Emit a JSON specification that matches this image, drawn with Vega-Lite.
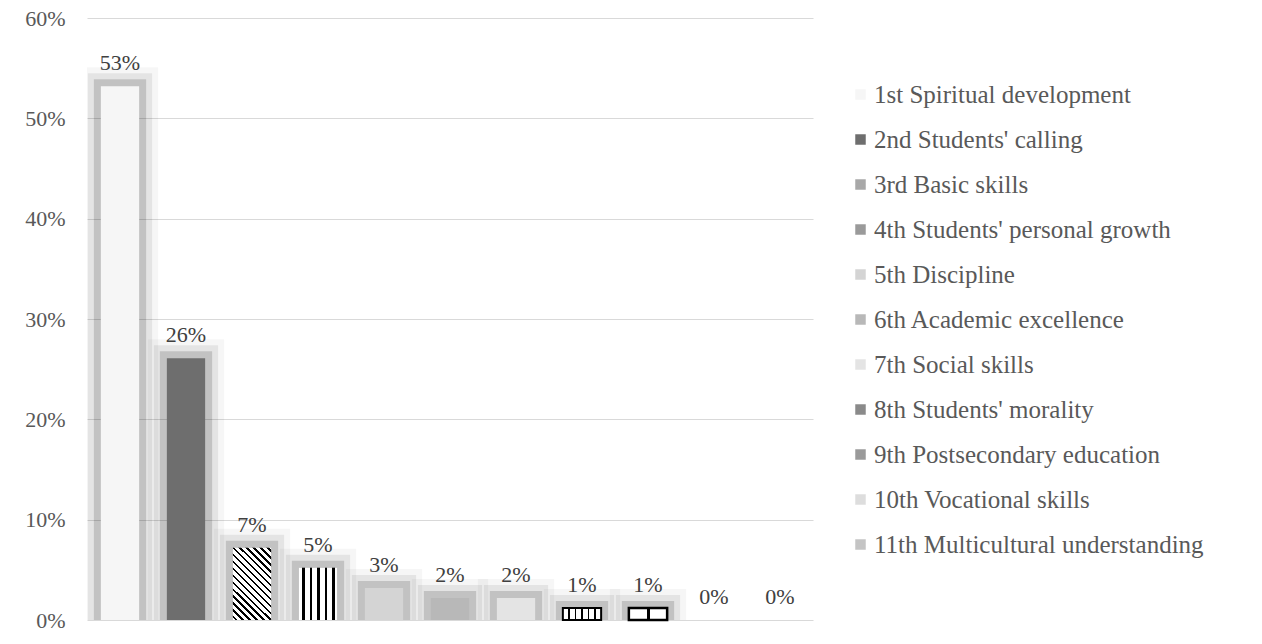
{
  "$schema": "https://vega.github.io/schema/vega-lite/v6.json",
  "autosize": {"type": "none"},
  "padding": {"left": 87, "top": 18, "right": 449, "bottom": 24},
  "width": 726,
  "height": 602,
  "background": "white",
  "config": {"view": {"stroke": null}, "font": "Liberation Serif"},
  "data": {
    "values": [
      {"item": "1st Spiritual development", "share": 0.532},
      {"item": "2nd Students' calling", "share": 0.261},
      {"item": "3rd Basic skills", "share": 0.072},
      {"item": "4th Students' personal growth", "share": 0.052},
      {"item": "5th Discipline", "share": 0.032},
      {"item": "6th Academic excellence", "share": 0.022},
      {"item": "7th Social skills", "share": 0.022},
      {"item": "8th Students' morality", "share": 0.012},
      {"item": "9th Postsecondary education", "share": 0.012},
      {"item": "10th Vocational skills", "share": 0.0},
      {"item": "11th Multicultural understanding", "share": 0.0}
    ]
  },
  "encoding": {
    "x": {
      "field": "item",
      "type": "nominal",
      "sort": null,
      "scale": {
        "domain": ["1st Spiritual development", "2nd Students' calling", "3rd Basic skills", "4th Students' personal growth", "5th Discipline", "6th Academic excellence", "7th Social skills", "8th Students' morality", "9th Postsecondary education", "10th Vocational skills", "11th Multicultural understanding"],
        "paddingInner": 0.42,
        "paddingOuter": 0.21
      },
      "axis": null
    },
    "y": {
      "field": "share",
      "type": "quantitative",
      "scale": {"domain": [0, 0.6]},
      "axis": {
        "values": [0, 0.1, 0.2, 0.3, 0.4, 0.5, 0.6],
        "format": ".0%",
        "grid": true,
        "gridColor": "#d9d9d9",
        "gridWidth": 1,
        "domain": false,
        "ticks": false,
        "labelPadding": 22,
        "labelFontSize": 22,
        "labelColor": "#595959",
        "labelFont": "Liberation Serif",
        "title": null
      }
    }
  },
  "layer": [
    {
      "transform": [{"filter": "datum.share > 0"}],
      "mark": {"type": "bar", "fill": "transparent", "stroke": "#000000", "strokeOpacity": 0.035, "strokeWidth": 38, "clip": true}
    },
    {
      "transform": [{"filter": "datum.share > 0"}],
      "mark": {"type": "bar", "fill": "transparent", "stroke": "#000000", "strokeOpacity": 0.07, "strokeWidth": 26, "clip": true}
    },
    {
      "transform": [{"filter": "datum.share > 0"}],
      "mark": {"type": "bar", "fill": "transparent", "stroke": "#000000", "strokeOpacity": 0.15, "strokeWidth": 14, "clip": true}
    },
    {
      "mark": {"type": "bar", "strokeWidth": 0},
      "encoding": {
        "color": {
          "field": "item",
          "type": "nominal",
          "sort": null,
          "scale": {
            "range": ["#f6f6f6", "#6e6e6e", "#a8a8a8", "#9a9a9a", "#d4d4d4", "#b8b8b8", "#e4e4e4", "#8a8a8a", "#9a9a9a", "#dddddd", "#c4c4c4"]
          },
          "legend": {
            "orient": "none",
            "legendX": 761,
            "legendY": 64,
            "title": null,
            "symbolType": "square",
            "symbolSize": 110,
            "symbolStrokeWidth": 0,
            "labelFontSize": 25,
            "labelColor": "#595959",
            "labelFont": "Liberation Serif",
            "rowPadding": 19,
            "labelOffset": 1,
            "padding": 0,
            "labelLimit": 420
          }
        }
      }
    },
    {
      "transform": [{"filter": "datum.item == '3rd Basic skills'"}],
      "mark": {
        "type": "bar",
        "fill": {
          "gradient": "linear", "x1": 0, "y1": 1, "x2": 0.631, "y2": -0.195,
          "stops": [
            {"offset": 0, "color": "#ffffff"}, {"offset": 0.02, "color": "#ffffff"}, {"offset": 0.02, "color": "#000000"}, {"offset": 0.041, "color": "#000000"}, {"offset": 0.041, "color": "#ffffff"},
            {"offset": 0.0825, "color": "#ffffff"}, {"offset": 0.0825, "color": "#000000"}, {"offset": 0.1035, "color": "#000000"}, {"offset": 0.1035, "color": "#ffffff"},
            {"offset": 0.145, "color": "#ffffff"}, {"offset": 0.145, "color": "#000000"}, {"offset": 0.166, "color": "#000000"}, {"offset": 0.166, "color": "#ffffff"},
            {"offset": 0.2075, "color": "#ffffff"}, {"offset": 0.2075, "color": "#000000"}, {"offset": 0.2285, "color": "#000000"}, {"offset": 0.2285, "color": "#ffffff"},
            {"offset": 0.27, "color": "#ffffff"}, {"offset": 0.27, "color": "#000000"}, {"offset": 0.291, "color": "#000000"}, {"offset": 0.291, "color": "#ffffff"},
            {"offset": 0.3325, "color": "#ffffff"}, {"offset": 0.3325, "color": "#000000"}, {"offset": 0.3535, "color": "#000000"}, {"offset": 0.3535, "color": "#ffffff"},
            {"offset": 0.395, "color": "#ffffff"}, {"offset": 0.395, "color": "#000000"}, {"offset": 0.416, "color": "#000000"}, {"offset": 0.416, "color": "#ffffff"},
            {"offset": 0.4575, "color": "#ffffff"}, {"offset": 0.4575, "color": "#000000"}, {"offset": 0.4785, "color": "#000000"}, {"offset": 0.4785, "color": "#ffffff"},
            {"offset": 0.52, "color": "#ffffff"}, {"offset": 0.52, "color": "#000000"}, {"offset": 0.541, "color": "#000000"}, {"offset": 0.541, "color": "#ffffff"},
            {"offset": 0.5825, "color": "#ffffff"}, {"offset": 0.5825, "color": "#000000"}, {"offset": 0.6035, "color": "#000000"}, {"offset": 0.6035, "color": "#ffffff"},
            {"offset": 0.645, "color": "#ffffff"}, {"offset": 0.645, "color": "#000000"}, {"offset": 0.666, "color": "#000000"}, {"offset": 0.666, "color": "#ffffff"},
            {"offset": 0.7075, "color": "#ffffff"}, {"offset": 0.7075, "color": "#000000"}, {"offset": 0.7285, "color": "#000000"}, {"offset": 0.7285, "color": "#ffffff"},
            {"offset": 0.77, "color": "#ffffff"}, {"offset": 0.77, "color": "#000000"}, {"offset": 0.791, "color": "#000000"}, {"offset": 0.791, "color": "#ffffff"},
            {"offset": 0.8325, "color": "#ffffff"}, {"offset": 0.8325, "color": "#000000"}, {"offset": 0.8535, "color": "#000000"}, {"offset": 0.8535, "color": "#ffffff"},
            {"offset": 0.895, "color": "#ffffff"}, {"offset": 0.895, "color": "#000000"}, {"offset": 0.916, "color": "#000000"}, {"offset": 0.916, "color": "#ffffff"},
            {"offset": 0.9575, "color": "#ffffff"}, {"offset": 0.9575, "color": "#000000"}, {"offset": 0.9785, "color": "#000000"}, {"offset": 0.9785, "color": "#ffffff"},
            {"offset": 1, "color": "#ffffff"}
          ]
        }
      }
    },
    {
      "transform": [{"filter": "datum.item == \"4th Students' personal growth\""}],
      "mark": {
        "type": "bar",
        "fill": {
          "gradient": "linear", "x1": 0, "y1": 0, "x2": 1, "y2": 0,
          "stops": [
            {"offset": 0, "color": "#ffffff"}, {"offset": 0.078, "color": "#ffffff"}, {"offset": 0.078, "color": "#000000"}, {"offset": 0.148, "color": "#000000"}, {"offset": 0.148, "color": "#ffffff"},
            {"offset": 0.278, "color": "#ffffff"}, {"offset": 0.278, "color": "#000000"}, {"offset": 0.348, "color": "#000000"}, {"offset": 0.348, "color": "#ffffff"},
            {"offset": 0.478, "color": "#ffffff"}, {"offset": 0.478, "color": "#000000"}, {"offset": 0.548, "color": "#000000"}, {"offset": 0.548, "color": "#ffffff"},
            {"offset": 0.678, "color": "#ffffff"}, {"offset": 0.678, "color": "#000000"}, {"offset": 0.748, "color": "#000000"}, {"offset": 0.748, "color": "#ffffff"},
            {"offset": 0.878, "color": "#ffffff"}, {"offset": 0.878, "color": "#000000"}, {"offset": 0.948, "color": "#000000"}, {"offset": 0.948, "color": "#ffffff"},
            {"offset": 1, "color": "#ffffff"}
          ]
        }
      }
    },
    {
      "transform": [{"filter": "datum.item == \"8th Students' morality\""}],
      "mark": {
        "type": "bar",
        "stroke": "#000000",
        "strokeWidth": 2,
        "fill": {
          "gradient": "linear", "x1": 0, "y1": 0, "x2": 1, "y2": 0,
          "stops": [
            {"offset": 0, "color": "#ffffff"}, {"offset": 0.145, "color": "#ffffff"}, {"offset": 0.145, "color": "#000000"}, {"offset": 0.19, "color": "#000000"}, {"offset": 0.19, "color": "#ffffff"},
            {"offset": 0.311, "color": "#ffffff"}, {"offset": 0.311, "color": "#000000"}, {"offset": 0.356, "color": "#000000"}, {"offset": 0.356, "color": "#ffffff"},
            {"offset": 0.478, "color": "#ffffff"}, {"offset": 0.478, "color": "#000000"}, {"offset": 0.522, "color": "#000000"}, {"offset": 0.522, "color": "#ffffff"},
            {"offset": 0.644, "color": "#ffffff"}, {"offset": 0.644, "color": "#000000"}, {"offset": 0.689, "color": "#000000"}, {"offset": 0.689, "color": "#ffffff"},
            {"offset": 0.811, "color": "#ffffff"}, {"offset": 0.811, "color": "#000000"}, {"offset": 0.856, "color": "#000000"}, {"offset": 0.856, "color": "#ffffff"},
            {"offset": 1, "color": "#ffffff"}
          ]
        }
      }
    },
    {
      "transform": [{"filter": "datum.item == '9th Postsecondary education'"}],
      "mark": {
        "type": "bar",
        "stroke": "#000000",
        "strokeWidth": 2.5,
        "fill": {
          "gradient": "linear", "x1": 0, "y1": 0, "x2": 1, "y2": 0,
          "stops": [
            {"offset": 0, "color": "#ffffff"}, {"offset": 0.47, "color": "#ffffff"}, {"offset": 0.47, "color": "#000000"}, {"offset": 0.54, "color": "#000000"}, {"offset": 0.54, "color": "#ffffff"},
            {"offset": 1, "color": "#ffffff"}
          ]
        }
      }
    },
    {
      "mark": {"type": "text", "baseline": "alphabetic", "dy": -16, "fontSize": 22, "color": "#404040", "font": "Liberation Serif"},
      "encoding": {
        "text": {"field": "share", "type": "quantitative", "format": ".0%"}
      }
    }
  ]
}
